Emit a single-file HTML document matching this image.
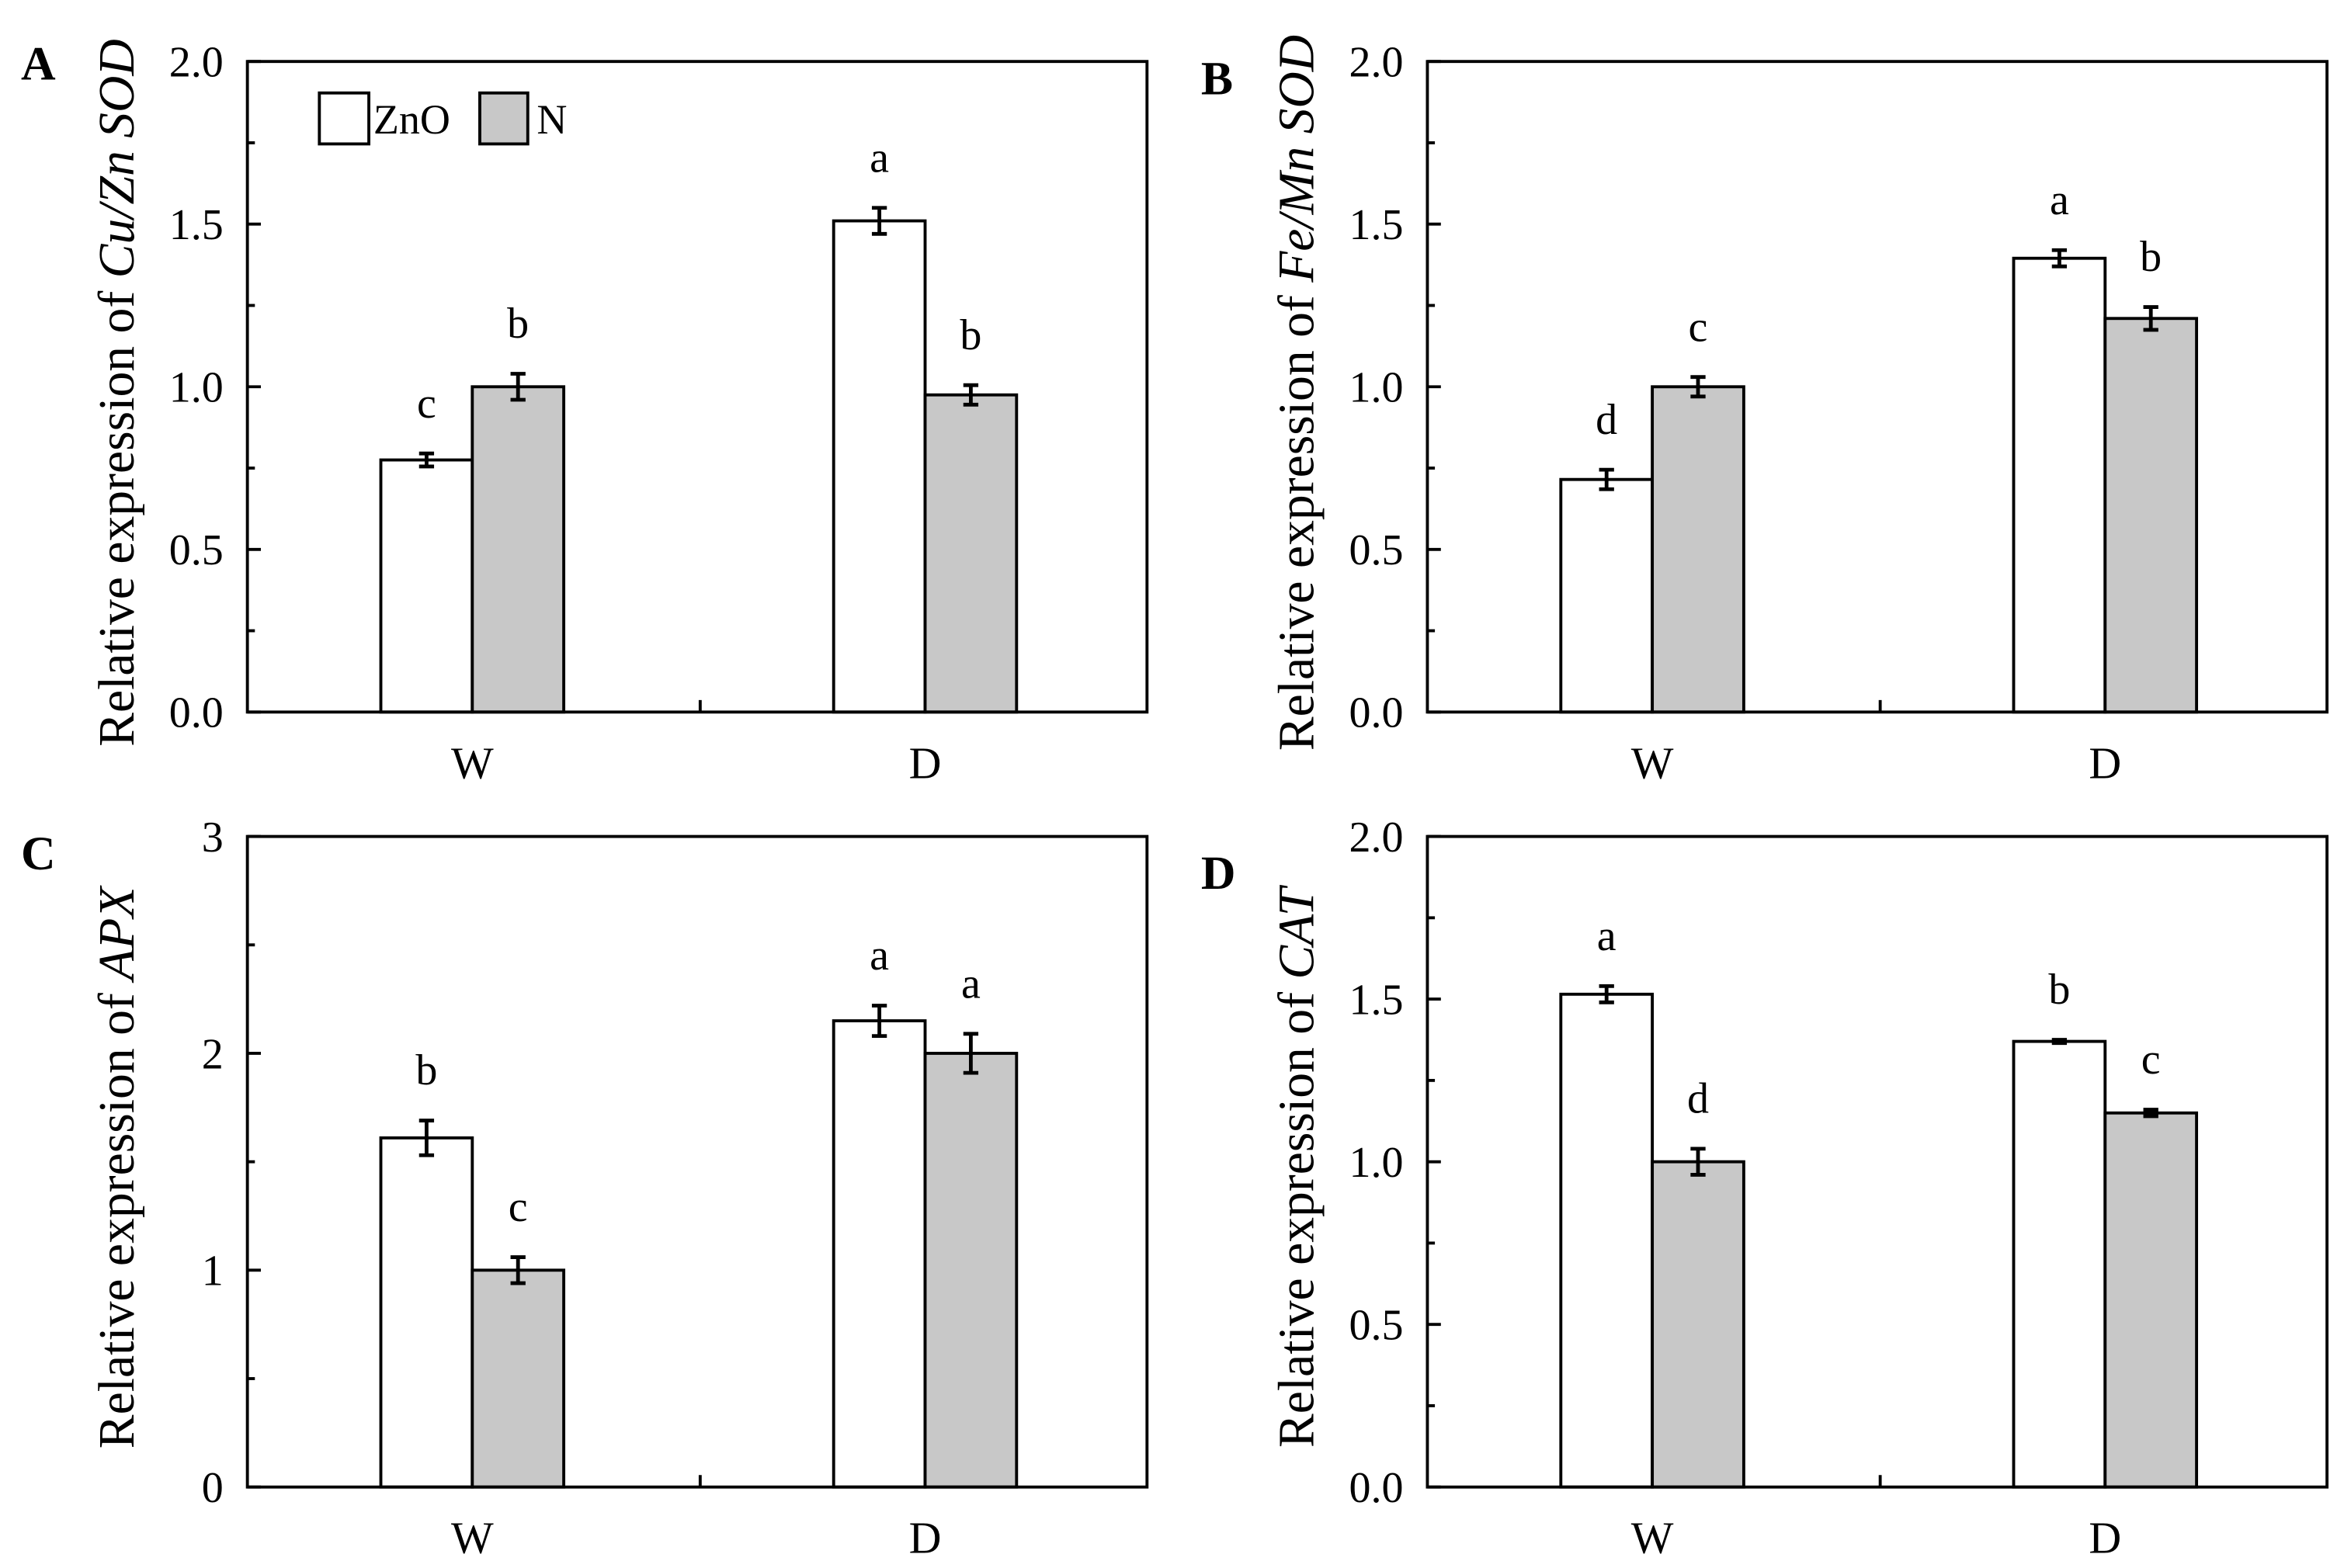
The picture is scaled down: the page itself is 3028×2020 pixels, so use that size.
<!DOCTYPE html>
<html><head><meta charset="utf-8"><style>
html,body{margin:0;padding:0;background:#fff}
svg{display:block}
text{font-family:"Liberation Serif",serif;fill:#000}
</style></head><body>
<svg id="fig" width="3028" height="2020" viewBox="0 0 1568 1046" xmlns="http://www.w3.org/2000/svg"></svg>
<script>
const categories = ["W","D"];
const seriesNames = ["ZnO","N"];
// panel A: Cu/Zn SOD
const valsA_ZnO = [0.775, 1.51];
const valsA_N = [1.0, 0.975];
const errA_ZnO = [0.02, 0.04];
const errA_N = [0.04, 0.03];
const lettersA_ZnO = ["c","a"];
const lettersA_N = ["b","b"];
// panel B: Fe/Mn SOD
const valsB_ZnO = [0.715, 1.395];
const valsB_N = [1.0, 1.21];
const errB_ZnO = [0.03, 0.025];
const errB_N = [0.03, 0.035];
const lettersB_ZnO = ["d","a"];
const lettersB_N = ["c","b"];
// panel C: APX
const valsC_ZnO = [1.61, 2.15];
const valsC_N = [1.0, 2.0];
const errC_ZnO = [0.08, 0.07];
const errC_N = [0.06, 0.09];
const lettersC_ZnO = ["b","a"];
const lettersC_N = ["c","a"];
// panel D: CAT
const valsD_ZnO = [1.515, 1.37];
const valsD_N = [1.0, 1.15];
const errD_ZnO = [0.025, 0.005];
const errD_N = [0.04, 0.01];
const lettersD_ZnO = ["a","b"];
const lettersD_N = ["d","c"];
const ticksA = ["0.0","0.5","1.0","1.5","2.0"];
const ticksC = ["0","1","2","3"];

const NS="http://www.w3.org/2000/svg";
const svg=document.getElementById('fig');
function mk(tag,attrs,parent){const e=document.createElementNS(NS,tag);for(const k in attrs)e.setAttribute(k,attrs[k]);(parent||svg).appendChild(e);return e;}

function panel(o){
  const g=mk('g',{});
  
  
  const L=o.x,R=o.x+600,T=o.y,B=o.y+434;
  const y=v=>B-(v/o.max)*(B-T);
  const cx=[L+150,L+452];
  const bw=61;
  const sets=[[o.z,o.ez,o.lz,'#fff',-1],[o.n,o.en,o.ln,'#c8c8c8',0]];
  sets.forEach((s,si)=>{
    categories.forEach((c,i)=>{
      const x0=cx[i]+s[4]*bw;
      const r=mk('rect',{x:x0,y:y(s[0][i]),width:bw,height:B-y(s[0][i]),fill:s[3],stroke:'#000','stroke-width':2},g);
      
      
      const xm=x0+bw/2, e=s[1][i];
      const eb=mk('path',{d:`M${xm} ${y(s[0][i]+e)}V${y(s[0][i]-e)}M${xm-5} ${y(s[0][i]+e)}H${xm+5}M${xm-5} ${y(s[0][i]-e)}H${xm+5}`,stroke:'#000','stroke-width':2.5,fill:'none'},g);
      
      
      const t=mk('text',{x:xm,y:y(s[0][i]+e)-24,'font-size':29,'text-anchor':'middle'},g);
      t.textContent=s[2][i];
      
      
    });
  });
  const fr=mk('rect',{x:L,y:T,width:600,height:434,fill:'none',stroke:'#000','stroke-width':2},g);
  
  
  const step=o.max/(o.ticks.length-1);
  o.ticks.forEach((lab,i)=>{
    const v=i*step;
    mk('line',{x1:L,x2:L+9,y1:y(v),y2:y(v),stroke:'#000','stroke-width':2},g);
    if(i<o.ticks.length-1) mk('line',{x1:L,x2:L+5,y1:y(v+step/2),y2:y(v+step/2),stroke:'#000','stroke-width':2},g);
    const t=mk('text',{x:L-16,y:y(v)+10,'font-size':29,'text-anchor':'end'},g);
    t.textContent=lab;
    
    
  });
  mk('line',{x1:L+302,x2:L+302,y1:B,y2:B-8,stroke:'#000','stroke-width':2},g);
  categories.forEach((c,i)=>{
    const t=mk('text',{x:cx[i],y:B+44,'font-size':30,'text-anchor':'middle'},g);
    t.textContent=c;
    
    
  });
  const yt=mk('text',{x:0,y:0,'font-size':34,'text-anchor':'middle',transform:`translate(${L-76},${(T+B)/2+4}) rotate(-90)`},g);
  yt.innerHTML='Relative expression of <tspan font-style="italic">'+o.gene+'</tspan>';
  
  
  const pl=mk('text',{x:L-151,y:T+o.ly,'font-size':32,'font-weight':'bold'},g);
  pl.textContent=o.id;
  
  
}
panel({id:'A',x:165,y:41,max:2,ticks:ticksA,gene:'Cu/Zn SOD',z:valsA_ZnO,n:valsA_N,ez:errA_ZnO,en:errA_N,lz:lettersA_ZnO,ln:lettersA_N,ly:12});
panel({id:'B',x:952,y:41,max:2,ticks:ticksA,gene:'Fe/Mn SOD',z:valsB_ZnO,n:valsB_N,ez:errB_ZnO,en:errB_N,lz:lettersB_ZnO,ln:lettersB_N,ly:22});
panel({id:'C',x:165,y:558,max:3,ticks:ticksC,gene:'APX',z:valsC_ZnO,n:valsC_N,ez:errC_ZnO,en:errC_N,lz:lettersC_ZnO,ln:lettersC_N,ly:22});
panel({id:'D',x:952,y:558,max:2,ticks:ticksA,gene:'CAT',z:valsD_ZnO,n:valsD_N,ez:errD_ZnO,en:errD_N,lz:lettersD_ZnO,ln:lettersD_N,ly:35});
const lg=mk('g',{});


const l1=mk('rect',{x:213,y:62,width:33,height:34,fill:'#fff',stroke:'#000','stroke-width':2},lg);


const t1=mk('text',{x:249,y:89,'font-size':28},lg);t1.textContent='ZnO';


const l2=mk('rect',{x:320,y:62,width:32,height:34,fill:'#c8c8c8',stroke:'#000','stroke-width':2},lg);


const t2=mk('text',{x:358,y:89,'font-size':28},lg);t2.textContent='N';


</script>
</body></html>
